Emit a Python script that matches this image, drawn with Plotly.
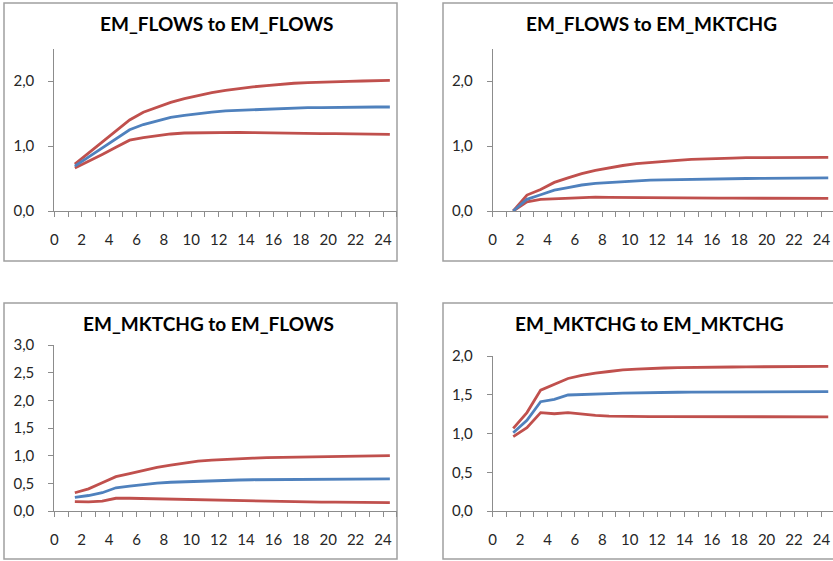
import plotly.graph_objects as go

# Impulse-response horizons (steps after the shock)
horizons = list(range(1, 25))

# EM_FLOWS to EM_FLOWS
ff_upper = [0.72, 0.89, 1.06, 1.23, 1.40, 1.52, 1.60, 1.67, 1.73, 1.78, 1.82, 1.855,
            1.885, 1.91, 1.93, 1.95, 1.965, 1.975, 1.985, 1.99, 1.995, 2.00, 2.005, 2.01]
ff_mid = [0.69, 0.83, 0.97, 1.11, 1.25, 1.33, 1.39, 1.44, 1.47, 1.50, 1.52, 1.54,
          1.55, 1.56, 1.57, 1.58, 1.585, 1.59, 1.59, 1.595, 1.595, 1.60, 1.60, 1.60]
ff_lower = [0.66, 0.76, 0.87, 0.98, 1.09, 1.13, 1.16, 1.185, 1.20, 1.205, 1.21, 1.21,
            1.21, 1.205, 1.20, 1.20, 1.195, 1.195, 1.19, 1.19, 1.185, 1.185, 1.18, 1.18]

# EM_FLOWS to EM_MKTCHG
fm_upper = [0.0, 0.245, 0.33, 0.44, 0.51, 0.575, 0.625, 0.667, 0.70, 0.73, 0.75, 0.765,
            0.78, 0.795, 0.805, 0.81, 0.815, 0.82, 0.822, 0.825, 0.827, 0.83, 0.828, 0.825]
fm_mid = [0.0, 0.18, 0.25, 0.32, 0.36, 0.40, 0.425, 0.44, 0.455, 0.468, 0.475, 0.48,
          0.485, 0.49, 0.493, 0.495, 0.498, 0.50, 0.502, 0.504, 0.506, 0.508, 0.509, 0.51]
fm_lower = [0.0, 0.14, 0.18, 0.19, 0.20, 0.213, 0.212, 0.21, 0.207, 0.205, 0.203, 0.20,
            0.199, 0.198, 0.198, 0.197, 0.197, 0.196, 0.196, 0.196, 0.195, 0.195, 0.195, 0.195]

# EM_MKTCHG to EM_FLOWS
mf_upper = [0.33, 0.40, 0.51, 0.62, 0.675, 0.735, 0.79, 0.83, 0.87, 0.90, 0.92, 0.935,
            0.945, 0.955, 0.965, 0.97, 0.975, 0.98, 0.985, 0.99, 0.99, 0.995, 0.995, 1.00]
mf_mid = [0.245, 0.28, 0.33, 0.42, 0.45, 0.48, 0.505, 0.52, 0.53, 0.54, 0.55, 0.555,
          0.56, 0.565, 0.567, 0.57, 0.572, 0.574, 0.575, 0.576, 0.577, 0.578, 0.579, 0.58]
mf_lower = [0.17, 0.165, 0.18, 0.23, 0.23, 0.225, 0.22, 0.21, 0.20, 0.195, 0.19, 0.185,
            0.18, 0.175, 0.17, 0.17, 0.165, 0.165, 0.16, 0.16, 0.155, 0.155, 0.15, 0.15]

# EM_MKTCHG to EM_MKTCHG
mm_upper = [1.067, 1.27, 1.56, 1.635, 1.71, 1.75, 1.78, 1.80, 1.82, 1.83, 1.84, 1.845,
            1.85, 1.85, 1.855, 1.855, 1.858, 1.86, 1.86, 1.862, 1.862, 1.864, 1.865, 1.865]
mm_mid = [1.01, 1.17, 1.41, 1.44, 1.497, 1.505, 1.515, 1.515, 1.52, 1.525, 1.527, 1.53,
          1.532, 1.533, 1.534, 1.535, 1.536, 1.537, 1.538, 1.538, 1.539, 1.54, 1.54, 1.54]
mm_lower = [0.96, 1.075, 1.27, 1.255, 1.27, 1.25, 1.235, 1.225, 1.22, 1.22, 1.218, 1.218,
            1.217, 1.217, 1.216, 1.216, 1.216, 1.215, 1.215, 1.215, 1.215, 1.215, 1.215, 1.215]

titles = ["EM_FLOWS to EM_FLOWS", "EM_FLOWS to EM_MKTCHG",
          "EM_MKTCHG to EM_FLOWS", "EM_MKTCHG to EM_MKTCHG"]
panels = [(ff_upper, ff_mid, ff_lower), (fm_upper, fm_mid, fm_lower),
          (mf_upper, mf_mid, mf_lower), (mm_upper, mm_mid, mm_lower)]

W, H = 833, 561
RED = "#C0504D"
BLUE = "#4F81BD"
AXIS = "#8C8C8C"
BORDER = "#A0A0A0"
TXT = "#262626"
FONT = "Lato"

# Pixel geometry of each chart: frame box, plot origin, x extent, y range/top
charts = [
    dict(box=(4, 3, 397, 261), x0=54.3, xend=396.7, ybot=211, ytop=48.5, yr=(0, 2.5), dy=1.0,
         title=(216.5, 23.5)),
    dict(box=(443, 3, 836, 261), x0=492.7, xend=835.1, ybot=211, ytop=48.5, yr=(0, 2.5), dy=1.0,
         title=(651, 23.5)),
    dict(box=(4, 303, 397, 559), x0=54.3, xend=396.7, ybot=511, ytop=345, yr=(0, 3.0), dy=0.5,
         title=(208, 323.5)),
    dict(box=(443, 303, 836, 559), x0=492.7, xend=835.1, ybot=511, ytop=356, yr=(0, 2.0), dy=0.5,
         title=(648.5, 323)),
]

fig = go.Figure()
# category slots are centred between the unit ticks
xpos = [h + 0.5 for h in horizons]

for i, (c, (up, mid, lo)) in enumerate(zip(charts, panels)):
    n = "" if i == 0 else str(i + 1)
    per = (c["xend"] - c["x0"]) / 25.0
    xmax_px = min(c["xend"], W)
    xr = (0, (xmax_px - c["x0"]) / per)
    for ys, col in ((up, RED), (lo, RED), (mid, BLUE)):
        fig.add_trace(go.Scatter(x=xpos, y=ys, mode="lines",
                                 line=dict(color=col, width=2.8),
                                 xaxis="x" + n, yaxis="y" + n,
                                 showlegend=False, hoverinfo="skip"))
    fig.layout["xaxis" + n] = dict(
        domain=[c["x0"] / W, xmax_px / W], range=list(xr), anchor="y" + n,
        automargin=False,
        showline=True, linecolor=AXIS, linewidth=1, showgrid=False, zeroline=False,
        tickmode="linear", tick0=0, dtick=2, ticks="outside", ticklen=5, tickcolor=AXIS,
        minor=dict(dtick=1, tick0=0, ticks="outside", ticklen=5, tickcolor=AXIS),
        ticklabelstandoff=10, tickfont=dict(family=FONT, size=15, color=TXT),
        fixedrange=True)
    fig.layout["yaxis" + n] = dict(
        domain=[1 - c["ybot"] / H, 1 - c["ytop"] / H], range=list(c["yr"]), anchor="x" + n,
        automargin=False,
        showline=True, linecolor=AXIS, linewidth=1, showgrid=False, zeroline=False,
        tickmode="linear", tick0=0, dtick=c["dy"], ticks="outside", ticklen=5, tickcolor=AXIS,
        tickformat=".1f", ticklabelstandoff=11,
        tickfont=dict(family=FONT, size=15, color=TXT), fixedrange=True)
    bx0, by0, bx1, by1 = c["box"]
    fig.add_shape(type="rect", xref="paper", yref="paper",
                  x0=bx0 / W, x1=bx1 / W, y0=1 - by1 / H, y1=1 - by0 / H,
                  line=dict(color=BORDER, width=1.5), fillcolor="rgba(0,0,0,0)", layer="below")
    tx, ty = c["title"]
    fig.add_annotation(text="<b>" + titles[i] + "</b>", xref="paper", yref="paper",
                       x=tx / W, y=1 - ty / H, xanchor="center", yanchor="middle",
                       showarrow=False, font=dict(family=FONT, size=19, color="#000000"))

fig.update_layout(width=W, height=H,
                  margin=dict(l=0, r=0, t=0, b=0, pad=0, autoexpand=False),
                  paper_bgcolor="white", plot_bgcolor="white", separators=",.",
                  showlegend=False)

fig.write_html("out.html", config={"displayModeBar": False})
